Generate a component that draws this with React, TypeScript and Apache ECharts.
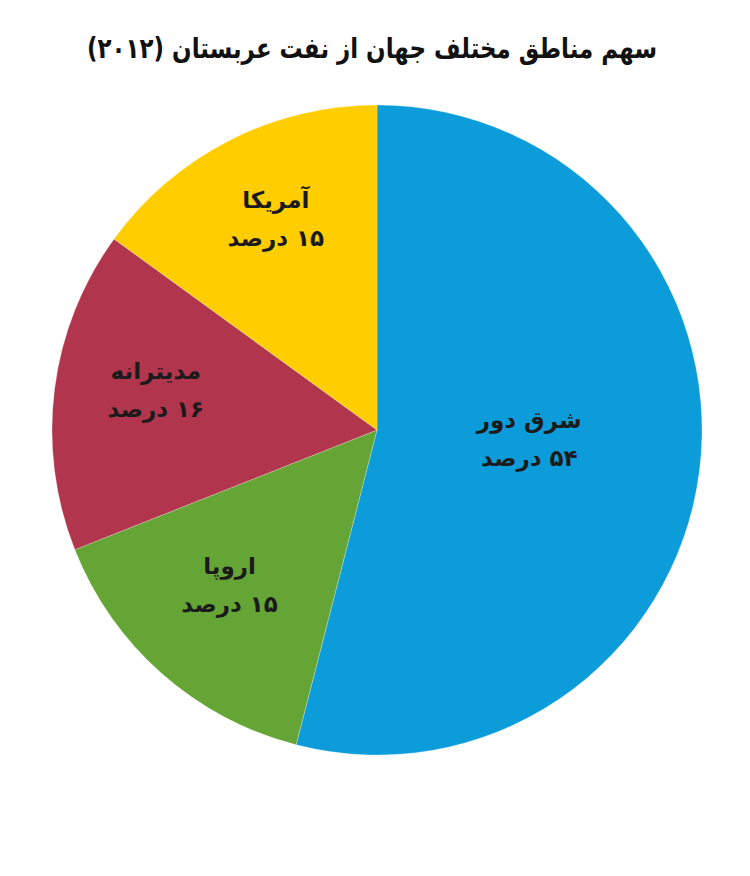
import React, { useEffect, useRef } from "react";
import * as echarts from "echarts";

const TITLE = "سهم مناطق مختلف جهان از نفت عربستان (۲۰۱۲)";
const CATEGORIES = ["شرق دور", "اروپا", "مدیترانه", "آمریکا"];
const SHARES = [54, 15, 16, 15];
const COLORS = ["#0B9CD9", "#64A535", "#B1354C", "#FFCD00"];
const UNIT = "درصد";

const RLM = "\u200F";
const FA_DIGITS = "۰۱۲۳۴۵۶۷۸۹";
const toFa = (n: number) => String(n).replace(/[0-9]/g, (d) => FA_DIGITS[+d]);
const labelText = (name: string, v: number) => `${RLM}${name}\n${RLM}${toFa(v)} ${UNIT}`;

const FONT = "DejaVu Sans";

export default function App() {
  const ref = useRef<HTMLDivElement>(null);
  useEffect(() => {
    if (!ref.current) return;
    const chart = echarts.init(ref.current, undefined, { renderer: "svg" });
    const labelStyle = {
      color: "#1b1b1b",
      fontFamily: FONT,
      fontWeight: "bold" as const,
      fontSize: 23,
      lineHeight: 38,
      align: "center" as const,
      offset: [0, -12],
      formatter: (p: any) => labelText(p.name, p.value),
    };
    const data = CATEGORIES.map((name, i) => ({
      name,
      value: SHARES[i],
      itemStyle: { color: COLORS[i] },
    }));
    chart.setOption({
      animation: false,
      backgroundColor: "#ffffff",
      graphic: [
        {
          type: "text",
          x: 372,
          y: 48,
          scaleX: 0.82,
          style: {
            text: RLM + TITLE + RLM,
            fontFamily: FONT,
            fontWeight: "bold",
            fontSize: 28,
            fill: "#111111",
            align: "center",
            verticalAlign: "middle",
          },
        },
      ],
      series: [
        {
          type: "pie",
          center: [377, 430],
          radius: [0, 325],
          startAngle: 90,
          clockwise: true,
          silent: true,
          itemStyle: { borderColor: "rgba(255,255,255,0.5)", borderWidth: 0.5 },
          label: { show: false, position: "inside", ...labelStyle },
          labelLine: { show: false },
          data: data.map((d, i) =>
            i === 0 ? { ...d, label: { show: true, offset: [-12, -12] } } : d
          ),
        },
        {
          type: "pie",
          center: [377, 430],
          radius: [115, 325],
          startAngle: 90,
          clockwise: true,
          silent: true,
          itemStyle: { color: "transparent", borderWidth: 0 },
          label: { show: true, position: "inside", ...labelStyle },
          labelLine: { show: false },
          data: data.map((d, i) => ({
            name: d.name,
            value: d.value,
            itemStyle: { color: "transparent" },
            label: { show: i !== 0 },
          })),
        },
      ],
    });
    return () => chart.dispose();
  }, []);
  return (
    <div
      ref={ref}
      style={{ position: "fixed", left: 0, top: 0, width: 750, height: 876, background: "#fff" }}
    />
  );
}
